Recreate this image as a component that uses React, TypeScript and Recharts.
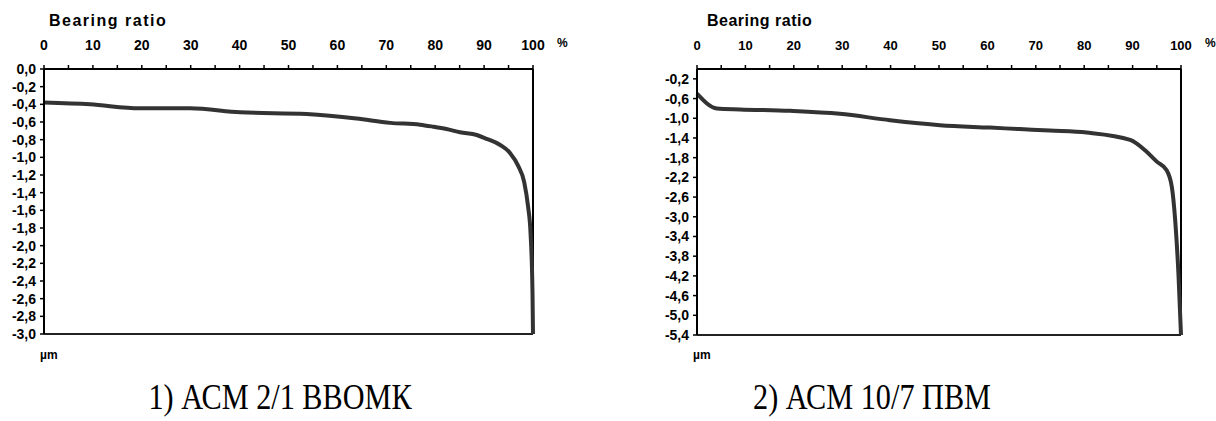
import { LineChart, Line, XAxis, YAxis, ReferenceLine } from 'recharts';

// 1) АСМ 2/1 ВВОМК
const leftRatio = [0, 9.4, 19.6, 29.9, 40.1, 53.7, 63.9, 70.8, 76.9, 79.6, 82.3, 85.1, 88.5, 90.5, 93.3, 95.3, 97.0, 98.2, 99.0, 99.5, 99.9, 100];
const leftDepth = [-0.38, -0.4, -0.445, -0.445, -0.49, -0.51, -0.56, -0.61, -0.63, -0.653, -0.68, -0.717, -0.747, -0.79, -0.86, -0.95, -1.1, -1.28, -1.56, -1.86, -2.54, -3.0];
const leftTicks = [0, -0.2, -0.4, -0.6, -0.8, -1.0, -1.2, -1.4, -1.6, -1.8, -2.0, -2.2, -2.4, -2.6, -2.8, -3.0];

// 2) АСМ 10/7 ПВМ
const rightRatio = [0, 4.1, 8.9, 19.2, 29.5, 39.9, 50.2, 60.5, 66.7, 72.9, 80.5, 89.5, 92.9, 95.0, 97.0, 98.1, 98.8, 99.5, 100];
const rightDepth = [-0.5, -0.8, -0.82, -0.85, -0.91, -1.04, -1.14, -1.19, -1.22, -1.25, -1.29, -1.44, -1.68, -1.88, -2.05, -2.39, -3.07, -4.22, -5.4];
const rightTicks = [-0.2, -0.6, -1.0, -1.4, -1.8, -2.2, -2.6, -3.0, -3.4, -3.8, -4.2, -4.6, -5.0, -5.4];

const ratioTicks = [0, 5, 10, 15, 20, 25, 30, 35, 40, 45, 50, 55, 60, 65, 70, 75, 80, 85, 90, 95, 100];

const SANS = "'Liberation Sans', Arial, sans-serif";
const SERIF = "'Liberation Serif', 'Times New Roman', serif";

const comma = (v: number) => v.toFixed(1).replace('.', ',');

interface PanelProps {
  ratio: number[];
  depth: number[];
  yTicks: number[];
  yMin: number;
  left: number;
  width: number;
  marginLeft: number;
  marginRight: number;
  marginBottom: number;
  xFont: number;
  titleOffset: number;
  titleSpacing: number;
  caption: string;
  captionX: number;
}

const Panel = (p: PanelProps) => {
  const data = p.ratio.map((x, i) => ({ x, y: p.depth[i] }));
  const plotLeft = p.left + p.marginLeft + 44;
  const plotRight = p.left + p.width - p.marginRight;
  return (
    <>
      <div style={{ position: 'absolute', left: p.left, top: 0 }}>
        <LineChart
          width={p.width}
          height={421}
          data={data}
          margin={{ top: 39, right: p.marginRight, left: p.marginLeft, bottom: p.marginBottom }}
        >
          <XAxis
            type="number"
            dataKey="x"
            orientation="top"
            domain={[0, 100]}
            ticks={ratioTicks}
            interval={0}
            height={30}
            tickFormatter={(v: number) => (v % 10 === 0 ? String(v) : '')}
            tick={{ fontSize: p.xFont, fontWeight: 700, fill: '#000', fontFamily: SANS }}
            tickSize={4}
            tickMargin={15}
            axisLine={{ stroke: '#000', strokeWidth: 2 }}
            tickLine={{ stroke: '#000', strokeWidth: 1.5 }}
          />
          <YAxis
            type="number"
            domain={[p.yMin, 0]}
            ticks={p.yTicks}
            interval={0}
            width={44}
            tickFormatter={comma}
            tick={{ fontSize: 14, fontWeight: 700, fill: '#000', fontFamily: SANS }}
            tickSize={4}
            tickMargin={4}
            axisLine={{ stroke: '#000', strokeWidth: 2 }}
            tickLine={{ stroke: '#000', strokeWidth: 1.5 }}
          />
          <ReferenceLine x={100} stroke="#000" strokeWidth={2} />
          <ReferenceLine y={p.yMin} stroke="#222" strokeWidth={2} />
          <Line
            type="monotone"
            dataKey="y"
            stroke="#333"
            strokeWidth={4}
            dot={false}
            isAnimationActive={false}
          />
        </LineChart>
      </div>
      <div
        style={{
          position: 'absolute',
          left: plotLeft + p.titleOffset,
          top: 12,
          font: `700 16px ${SANS}`,
          letterSpacing: p.titleSpacing,
          lineHeight: '18px',
        }}
      >
        Bearing ratio
      </div>
      <div style={{ position: 'absolute', left: plotRight + 24, top: 36, font: `700 12px ${SANS}` }}>%</div>
      <div style={{ position: 'absolute', left: plotLeft - 4, top: 348, font: `700 12px ${SANS}` }}>µm</div>
      <div
        style={{
          position: 'absolute',
          left: p.captionX,
          top: 378,
          font: `36px ${SERIF}`,
          lineHeight: '38px',
          transform: 'translateX(-50%) scaleX(0.84)',
          whiteSpace: 'nowrap',
        }}
      >
        {p.caption}
      </div>
    </>
  );
};

const App = () => (
  <div style={{ position: 'absolute', left: 0, top: 0, width: 1216, height: 421, background: '#fff', overflow: 'hidden' }}>
    <Panel
      ratio={leftRatio}
      depth={leftDepth}
      yTicks={leftTicks}
      yMin={-3}
      left={0}
      width={600}
      marginLeft={0}
      marginRight={67}
      marginBottom={87}
      xFont={14}
      titleOffset={5}
      titleSpacing={1.5}
      caption="1) АСМ 2/1 ВВОМК"
      captionX={280}
    />
    <Panel
      ratio={rightRatio}
      depth={rightDepth}
      yTicks={rightTicks}
      yMin={-5.4}
      left={610}
      width={606}
      marginLeft={43}
      marginRight={35}
      marginBottom={86}
      xFont={13}
      titleOffset={10}
      titleSpacing={0.5}
      caption="2) АСМ 10/7 ПВМ"
      captionX={872}
    />
  </div>
);

export default App;
